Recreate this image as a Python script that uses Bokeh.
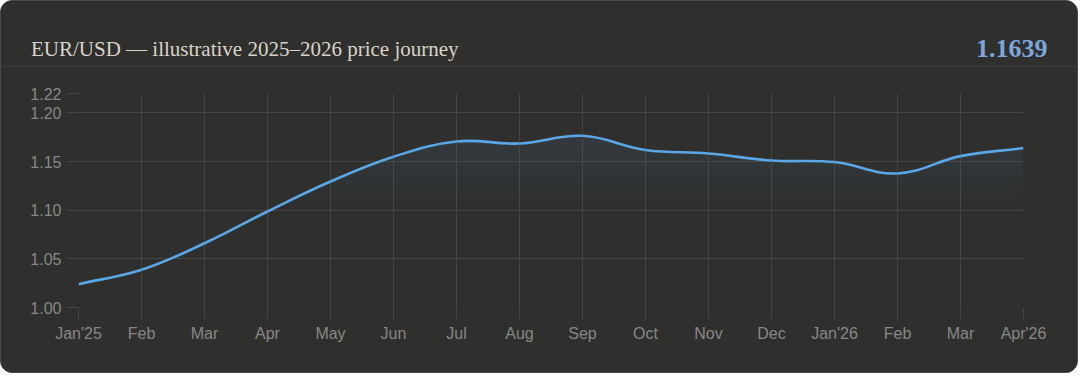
import numpy as np
from bokeh.plotting import figure
from bokeh.layouts import column
from bokeh.models import (Range1d, FixedTicker, PrintfTickFormatter, Label, Span, ColumnDataSource)
from bokeh.embed import file_html
from bokeh.resources import INLINE

# ---------------- data ----------------
month_labels = ["Jan'25", "Feb", "Mar", "Apr", "May", "Jun", "Jul", "Aug", "Sep",
                "Oct", "Nov", "Dec", "Jan'26", "Feb", "Mar", "Apr'26"]
prices = [1.0240, 1.0388, 1.0660, 1.0987, 1.1295, 1.1550, 1.1707, 1.1686, 1.1765,
          1.1620, 1.1583, 1.1511, 1.1495, 1.1378, 1.1556, 1.1639]
y_ticks = [1.00, 1.05, 1.10, 1.15, 1.20, 1.22]
title_text = "EUR/USD \u2014 illustrative 2025\u20132026 price journey"
last_value_text = "1.1639"

# ---------------- colours ----------------
OUTER = "#2a2a29"
CARD = "#2f2f2d"
BORDER = "#4a4a48"
GRID = "#444442"
TICK_TXT = "#878787"
LINE = "#5aa6e6"
TITLE = "#d8d4ca"
VALUE = "#7ba7dd"

W = 1076

# ---------------- header ----------------
header = figure(width=W, height=66, x_range=Range1d(0, W), y_range=Range1d(0, 66),
                output_backend="svg", toolbar_location=None, min_border=0)
header.frame_align = False
header.axis.visible = False
header.grid.visible = False
header.outline_line_color = None
header.background_fill_color = CARD
header.border_fill_color = CARD
header.add_layout(Label(x=29.5, y=19, text=title_text, text_font="Liberation Serif",
                        text_font_size="21px", text_color=TITLE, text_baseline="alphabetic"))
header.add_layout(Label(x=1046, y=19.3, text=last_value_text, text_font="Liberation Serif",
                        text_font_size="26px", text_font_style="bold", text_color=VALUE,
                        text_align="right", text_baseline="alphabetic"))
header.add_layout(Span(location=0.5, dimension="width", line_color=BORDER, line_width=1))

# ---------------- main chart ----------------
n = len(prices)
xs = np.arange(n, dtype=float)
ys = np.array(prices)

p = figure(width=W, height=305, x_range=Range1d(0, n - 1), y_range=Range1d(1.00, 1.22),
           output_backend="svg", toolbar_location=None,
           min_border_left=77, min_border_right=54, min_border_top=26, min_border_bottom=65)
p.frame_align = False
p.background_fill_color = CARD
p.border_fill_color = CARD
p.outline_line_color = None

# smooth curve control points (tension 0.4 style spline, distances in pixel space)
sx, sy = 63.0, 972.7
t = 0.4
cp_prev = np.zeros((n, 2))
cp_next = np.zeros((n, 2))
for i in range(n):
    cur = np.array([xs[i], ys[i]])
    prv = np.array([xs[i - 1], ys[i - 1]]) if i > 0 else cur
    nxt = np.array([xs[i + 1], ys[i + 1]]) if i < n - 1 else cur
    d01 = np.hypot((cur[0] - prv[0]) * sx, (cur[1] - prv[1]) * sy)
    d12 = np.hypot((nxt[0] - cur[0]) * sx, (nxt[1] - cur[1]) * sy)
    tot = d01 + d12
    s01 = d01 / tot if tot else 0.0
    s12 = d12 / tot if tot else 0.0
    cp_prev[i] = cur - t * s01 * (nxt - prv)
    cp_next[i] = cur + t * s12 * (nxt - prv)

seg = dict(x0=xs[:-1], y0=ys[:-1], x1=xs[1:], y1=ys[1:],
           cx0=cp_next[:-1, 0], cy0=cp_next[:-1, 1],
           cx1=cp_prev[1:, 0], cy1=cp_prev[1:, 1])

# sample the drawn curve for the gradient fill beneath it
tt = np.linspace(0, 1, 24)
fx, fy = [], []
for i in range(n - 1):
    P0 = np.array([seg["x0"][i], seg["y0"][i]])
    P1 = np.array([seg["cx0"][i], seg["cy0"][i]])
    P2 = np.array([seg["cx1"][i], seg["cy1"][i]])
    P3 = np.array([seg["x1"][i], seg["y1"][i]])
    for k, u in enumerate(tt):
        if i > 0 and k == 0:
            continue
        b = (1 - u) ** 3 * P0 + 3 * (1 - u) ** 2 * u * P1 + 3 * (1 - u) * u ** 2 * P2 + u ** 3 * P3
        fx.append(b[0]); fy.append(b[1])
fx = np.array(fx); fy = np.array(fy)

band_edges = np.arange(1.00, 1.2201, 0.004)
for lo, hi in zip(band_edges[:-1], band_edges[1:]):
    mid = 0.5 * (lo + hi)
    a = max(0.0, 1.15 * (mid - 1.095))
    if a <= 0:
        continue
    top = np.clip(fy, lo, hi)
    p.varea(x=fx, y1=np.full_like(fx, lo), y2=top, fill_color=LINE, fill_alpha=min(a, 0.14))

p.bezier(source=ColumnDataSource(seg), x0="x0", y0="y0", x1="x1", y1="y1",
         cx0="cx0", cy0="cy0", cx1="cx1", cy1="cy1", line_color=LINE, line_width=2.6)

# axes
p.xaxis.ticker = FixedTicker(ticks=list(range(n)))
p.xaxis.major_label_overrides = {i: lab for i, lab in enumerate(month_labels)}
p.yaxis.ticker = FixedTicker(ticks=y_ticks)
p.yaxis.formatter = PrintfTickFormatter(format="%.2f")
for ax in (p.xaxis, p.yaxis):
    ax.axis_line_color = None
    ax.major_tick_line_color = GRID
    ax.major_tick_out = 12
    ax.major_tick_in = 0
    ax.minor_tick_line_color = None
    ax.major_label_text_color = TICK_TXT
    ax.major_label_text_font = "Liberation Sans"
    ax.major_label_text_font_size = "16px"
p.yaxis.major_label_standoff = 5
p.xaxis.major_label_standoff = 5
p.xgrid.ticker = FixedTicker(ticks=list(range(n)))
p.ygrid.ticker = FixedTicker(ticks=y_ticks)
p.grid.grid_line_color = GRID
p.grid.grid_line_width = 1

layout = column(header, p, spacing=0,
                styles={"border": "1px solid " + BORDER, "border-radius": "12px",
                        "background-color": CARD, "overflow": "hidden"})

html = file_html(layout, INLINE, title="EUR/USD")
html = html.replace("<body>", '<body style="margin:0;background:%s;">' % OUTER, 1)
open("out.html", "w").write(html)
